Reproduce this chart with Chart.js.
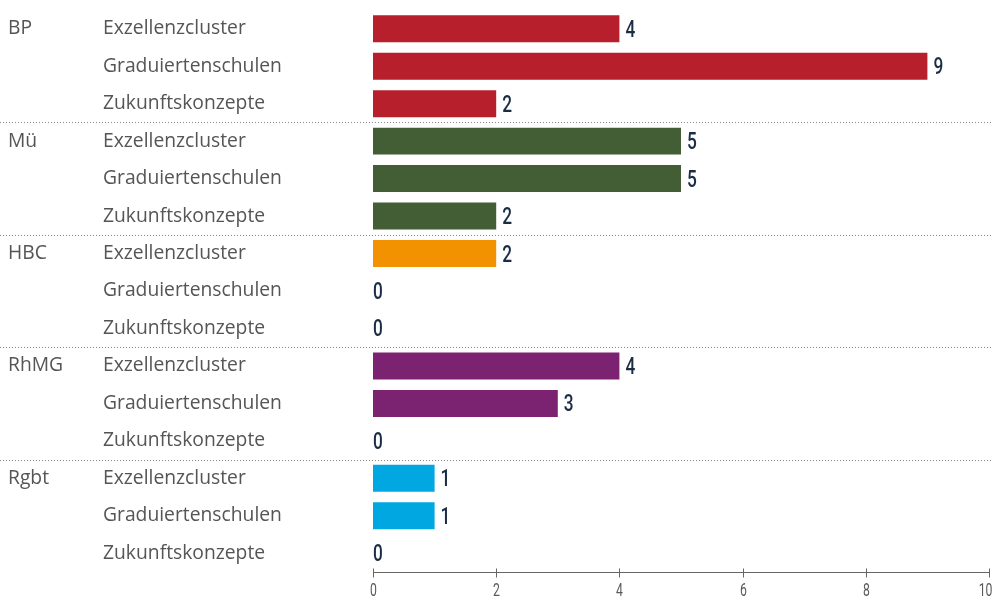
<!DOCTYPE html>
<html>
<head>
<meta charset="utf-8">
<script src="https://cdn.jsdelivr.net/npm/chart.js@4"></script>
<style>
  html, body { margin: 0; padding: 0; background: #fff; }
  #wrap { position: relative; width: 994px; height: 603px; }
</style>
</head>
<body>
<div id="wrap"><canvas id="myChart"></canvas></div>
<script>
const groups = ["BP", "Mü", "HBC", "RhMG", "Rgbt"];
const categories = ["Exzellenzcluster", "Graduiertenschulen", "Zukunftskonzepte"];
const values = [4, 9, 2, 5, 5, 2, 2, 0, 0, 4, 3, 0, 1, 1, 0];
const groupColors = ["#b61f2b", "#435e34", "#f39200", "#7b2271", "#00a7e1"];
const xTicks = [0, 2, 4, 6, 8, 10];

const rowLabels = [];
const barColors = [];
groups.forEach((g, gi) => {
  categories.forEach((c) => {
    rowLabels.push(c);
    barColors.push(groupColors[gi]);
  });
});

const labelFont = "'Open Sans', 'Noto Sans', sans-serif";
const numFont = "Roboto, sans-serif";

// condensed-looking numbers: squeeze the text horizontally
function narrowText(ctx, txt, x, y, align, squeeze) {
  ctx.save();
  ctx.translate(x, y);
  ctx.scale(squeeze, 1);
  ctx.textAlign = align;
  ctx.fillText(txt, 0, 0);
  ctx.restore();
}

const sidePlugin = {
  id: "sideLabels",
  afterDraw(chart) {
    const ctx = chart.ctx;
    const y = chart.scales.y;
    const x = chart.scales.x;
    ctx.save();
    ctx.textBaseline = "middle";
    rowLabels.forEach((lab, i) => {
      const py = y.getPixelForValue(i);
      ctx.fillStyle = "#555555";
      ctx.font = "19.3px " + labelFont;
      ctx.textAlign = "left";
      if (i % 3 === 0) ctx.fillText(groups[i / 3], 8, py);
      ctx.fillText(lab, 103, py);
      ctx.fillStyle = "#1b2d45";
      ctx.font = "500 24px " + numFont;
      const vx = x.getPixelForValue(values[i]);
      narrowText(ctx, String(values[i]), values[i] === 0 ? vx : vx + 6, py + 2, "left", 0.72);
    });
    // dotted separators
    ctx.strokeStyle = "#888888";
    ctx.lineWidth = 1;
    ctx.setLineDash([1, 2]);
    for (let g = 1; g < groups.length; g++) {
      const py = Math.round((y.getPixelForValue(g * 3 - 1) + y.getPixelForValue(g * 3)) / 2) + 0.5;
      ctx.beginPath();
      ctx.moveTo(0, py);
      ctx.lineTo(992, py);
      ctx.stroke();
    }
    ctx.setLineDash([]);
    // x axis line, ticks and labels
    const ay = Math.round(chart.chartArea.bottom) + 0.5;
    ctx.strokeStyle = "#666666";
    ctx.beginPath();
    ctx.moveTo(x.left, ay);
    ctx.lineTo(x.right, ay);
    ctx.stroke();
    ctx.fillStyle = "#5a5a5a";
    ctx.font = "18px " + numFont;
    xTicks.forEach((v, k) => {
      const px = Math.round(x.getPixelForValue(v)) + 0.5;
      ctx.beginPath();
      ctx.moveTo(px, ay - 4);
      ctx.lineTo(px, ay + 5);
      ctx.stroke();
      const last = k === xTicks.length - 1;
      narrowText(ctx, String(v), last ? px + 3 : px, ay + 19, last ? "right" : "center", 0.68);
    });
    ctx.restore();
  },
};

const ctx = document.getElementById("myChart").getContext("2d");
new Chart(ctx, {
  type: "bar",
  data: {
    labels: rowLabels,
    datasets: [
      {
        data: values,
        backgroundColor: barColors,
        borderWidth: 0,
        categoryPercentage: 1,
        barPercentage: 0.72,
      },
    ],
  },
  options: {
    indexAxis: "y",
    responsive: true,
    maintainAspectRatio: false,
    animation: false,
    layout: { padding: { left: 0, right: 5, top: 10, bottom: 31 } },
    plugins: {
      legend: { display: false },
      tooltip: { enabled: false },
    },
    scales: {
      x: {
        display: false,
        min: 0,
        max: 10,
      },
      y: {
        grid: { display: false },
        border: { display: false },
        ticks: { display: false },
        afterFit: (axis) => {
          axis.width = 373;
        },
      },
    },
  },
  plugins: [sidePlugin],
});
</script>
</body>
</html>
